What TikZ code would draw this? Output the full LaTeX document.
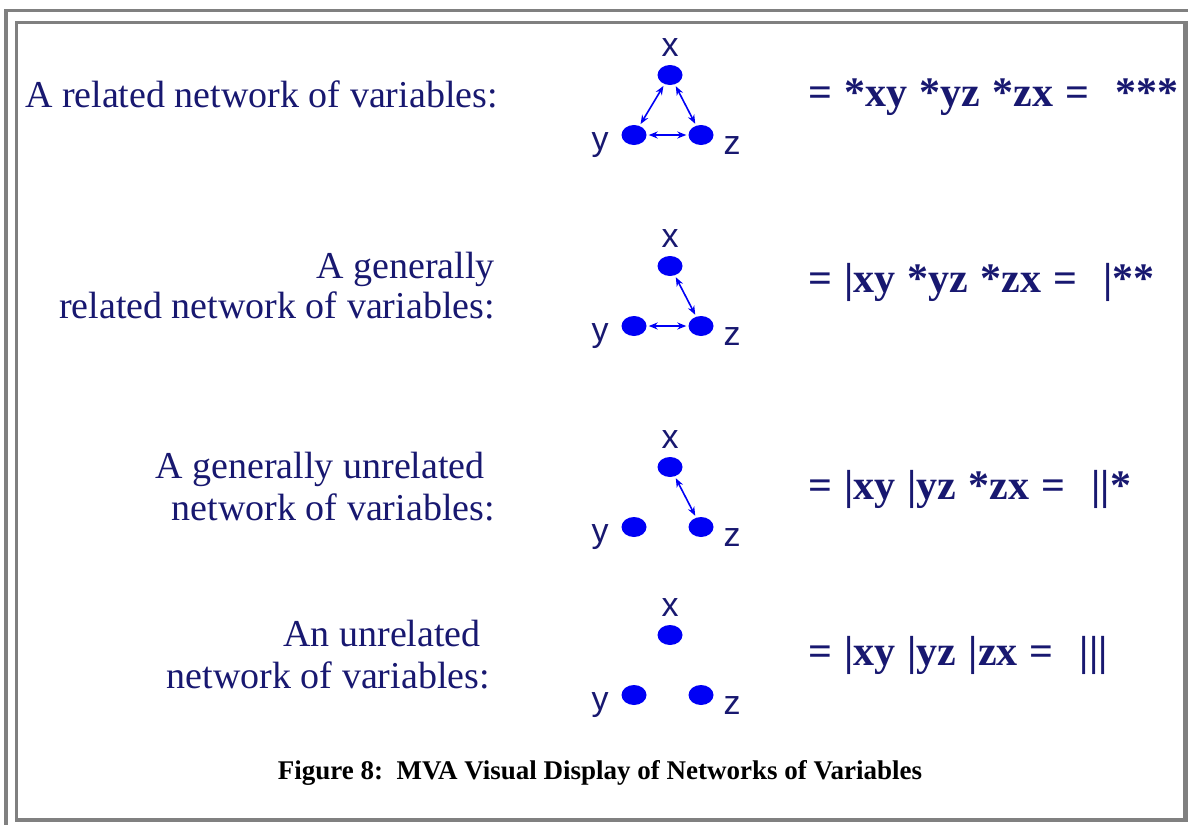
\documentclass[tikz,border=0pt]{standalone}
\usepackage{fontspec}
\setmainfont{Liberation Serif}
\setsansfont{Liberation Sans}
\usetikzlibrary{shapes.geometric,arrows.meta}

\definecolor{framegray}{RGB}{128,128,128}
\definecolor{inkblue}{RGB}{24,24,112}
\definecolor{dotblue}{RGB}{0,0,245}

\newcommand{\eqfont}{\bfseries\fontsize{42}{42}\selectfont\spaceskip=12.2pt\relax}
\newcommand{\eqgap}{\hspace{26pt}}

\tikzset{
  dot/.style={ellipse,fill=dotblue,minimum width=25pt,minimum height=20pt,inner sep=0pt},
  varlabel/.style={anchor=base,inner sep=0pt,text=inkblue,font=\sffamily\fontsize{34}{34}\selectfont},
  lefttext/.style={anchor=base east,inner sep=0pt,text=inkblue,font=\fontsize{38}{40}\selectfont},
  eqtext/.style={anchor=base west,inner sep=0pt,text=inkblue,font=\eqfont},
  link/.style={{Stealth[length=9pt,width=7pt]}-{Stealth[length=9pt,width=7pt]},dotblue,line width=1.6pt,shorten <=2pt,shorten >=2pt}
}

\begin{document}
\begin{tikzpicture}[x=1pt,y=-1pt]
    \useasboundingbox (0,0) rectangle (1188,825);
    % double frame
    \fill[framegray] (4,9) rectangle (1188,12);
    \fill[framegray] (4,9) rectangle (8,825);
    \fill[framegray] (15,21) rectangle (1186,24);
    \fill[framegray] (15,21) rectangle (18,822);
    \fill[framegray] (1183,21) rectangle (1188,822);
    \fill[framegray] (15,818) rectangle (1188,822);

    % row names
    \node[lefttext] (t1) at (498,107) {A related network of variables:};
    \node[lefttext] (t2a) at (495,278) {A generally};
    \node[lefttext] (t2b) at (495,318) {related network of variables:};
    \node[lefttext] (t3a) at (485,478) {A generally unrelated};
    \node[lefttext] (t3b) at (495,520) {network of variables:};
    \node[lefttext] (t4a) at (481,646) {An unrelated};
    \node[lefttext] (t4b) at (490,688) {network of variables:};

    % the three variables of each row
    \foreach \r/\ry in {1/75,2/266,3/467,4/635} {
        \node[dot] (x\r) at (670,\ry) {};
        \node[dot] (y\r) at (634,\ry+60) {};
        \node[dot] (z\r) at (701,\ry+60) {};
        \node[varlabel] (lx\r) at (670,\ry-19) {x};
        \node[varlabel] (ly\r) at (600,\ry+75) {y};
        \node[varlabel] (lz\r) at (732,\ry+79) {z};
    }
    \draw[link] (x1) -- (y1);
    \draw[link] (x1) -- (z1);
    \draw[link] (y1) -- (z1);
    \draw[link] (x2) -- (z2);
    \draw[link] (y2) -- (z2);
    \draw[link] (x3) -- (z3);

    % formulas
    \node[eqtext] (e1) at (808,106) {= *xy *yz *zx =\eqgap***};
    \node[eqtext] (e2) at (808,292) {= |xy *yz *zx =\eqgap|**};
    \node[eqtext] (e3) at (808,499) {= |xy |yz *zx =\eqgap||*};
    \node[eqtext] (e4) at (808,665) {= |xy |yz |zx =\eqgap|||};

    \node[anchor=base,inner sep=0pt,font=\bfseries\fontsize{27}{27}\selectfont] (cap) at (600,779)
        {Figure 8:\ \ MVA Visual Display of Networks of Variables};
\end{tikzpicture}
\end{document}
